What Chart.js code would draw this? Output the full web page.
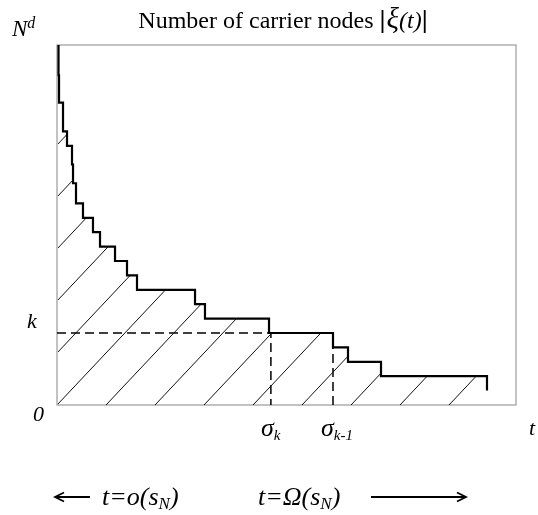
<!DOCTYPE html>
<html>
<head>
<meta charset="utf-8">
<script src="https://cdn.jsdelivr.net/npm/chart.js@4.4.1/dist/chart.umd.min.js"></script>
<style>
html, body { margin: 0; padding: 0; background: #fff; }
</style>
</head>
<body>
<canvas id="myChart" width="538" height="515"></canvas>
<script>
// times at which the number of carrier nodes drops, and the count right after
var dropTimes = [0.22, 0.33, 0.44, 1.31, 2.18, 3.27, 3.49, 4.14, 5.66, 7.84, 9.37, 12.64, 15.25, 17.43, 30.07, 32.24, 46.19, 60.13, 63.40, 70.59, 93.68];
var carrierCounts = [25, 22.9, 21, 19, 18, 16.7, 15.4, 14, 13, 12, 11, 10, 9, 8, 7, 6, 5, 4, 3, 2, 1];

var Nd = 25;        // top of the y axis
var k = 5;          // level marked with the dashed line
var sigmaK = 46.6;  // time the count reaches k
var sigmaK1 = 60.13; // time the count reaches k-1
var tMax = 100;

var serif = '"Liberation Serif", "DejaVu Serif", serif';

/**
  Pattern of thin "/" lines used for the area under the curve
*/
function makeHatch(w, h){
  var c = document.createElement('canvas');
  c.width = w;
  c.height = h;
  var g = c.getContext('2d');
  g.strokeStyle = '#111';
  g.lineWidth = 1;
  g.beginPath();
  for (var n = 0; n <= 2; n++){
    g.moveTo(n*w + w, -h);
    g.lineTo(n*w - 2*w, 2*h);
  }
  g.stroke();
  return g.createPattern(c, 'repeat');
}

/**
  Draw a row of text pieces in different fonts
*/
function drawRuns(ctx, x, y, runs, align){
  var total = 0;
  runs.forEach(function(r){
    ctx.font = r.font;
    r.w = ctx.measureText(r.text).width;
    total += r.w + (r.gap || 0);
  });
  var cx = (align === 'center') ? x - total/2 : x;
  runs.forEach(function(r){
    ctx.font = r.font;
    ctx.fillText(r.text, cx, y + (r.dy || 0));
    cx += r.w + (r.gap || 0);
  });
}

function arrow(ctx, x1, x2, y){
  var dir = x2 > x1 ? 1 : -1;
  ctx.beginPath();
  ctx.moveTo(x1, y);
  ctx.lineTo(x2, y);
  ctx.moveTo(x2 - dir*9, y - 4.5);
  ctx.lineTo(x2, y);
  ctx.lineTo(x2 - dir*9, y + 4.5);
  ctx.stroke();
}

var hatch = makeHatch(49, 52);

var points = dropTimes.map(function(t, i){ return {x: t, y: carrierCounts[i]}; });

var framePlugin = {
  id: 'frame',
  afterLayout: function(chart){
    var a = chart.chartArea;
    hatch.setTransform(new DOMMatrix().translate(a.left, a.bottom));
  },
  beforeDatasetsDraw: function(chart){
    var a = chart.chartArea;
    var c = chart.ctx;
    c.save();
    c.strokeStyle = '#9a9a9a';
    c.lineWidth = 1.2;
    c.strokeRect(a.left, a.top, a.right - a.left, a.bottom - a.top);
    c.restore();
  }
};

var labelPlugin = {
  id: 'labels',
  afterDraw: function(chart){
    var c = chart.ctx;
    var xs = chart.scales.x, ys = chart.scales.y;
    c.save();
    c.fillStyle = '#000';
    c.textBaseline = 'alphabetic';

    // title
    drawRuns(c, 283, 28, [
      {text: 'Number of carrier nodes ', font: '24px ' + serif},
      {text: '|', font: '23px "Liberation Sans", sans-serif', gap: 1},
      {text: '\u03BE', font: 'italic 29px ' + serif},
      {text: '(t)', font: 'italic 24px ' + serif},
      {text: '|', font: '23px "Liberation Sans", sans-serif'}
    ], 'center');

    // y axis marks
    var yTop = ys.getPixelForValue(Nd);
    drawRuns(c, 12, yTop - 9, [
      {text: 'N', font: 'italic 23px ' + serif},
      {text: 'd', font: 'italic 16px ' + serif, dy: -8}
    ]);
    drawRuns(c, 27, ys.getPixelForValue(k) - 5, [{text: 'k', font: 'italic 22px ' + serif}]);
    drawRuns(c, 33, ys.getPixelForValue(0) + 16, [{text: '0', font: 'italic 22px ' + serif}]);

    // x axis marks
    var yb = ys.getPixelForValue(0);
    drawRuns(c, xs.getPixelForValue(sigmaK) - 10, yb + 31, [
      {text: '\u03C3', font: 'italic 26px ' + serif},
      {text: 'k', font: 'italic 15px ' + serif, dy: 4}
    ]);
    drawRuns(c, xs.getPixelForValue(sigmaK1) - 12, yb + 31, [
      {text: '\u03C3', font: 'italic 26px ' + serif},
      {text: 'k-1', font: 'italic 15px ' + serif, dy: 4}
    ]);
    drawRuns(c, 529, yb + 30, [{text: 't', font: 'italic 22px ' + serif}]);

    // regimes below the chart
    c.strokeStyle = '#000';
    c.lineWidth = 1.8;
    arrow(c, 90, 55, 497);
    drawRuns(c, 102, 505, [
      {text: 't=o(s', font: 'italic 26px ' + serif},
      {text: 'N', font: 'italic 17px ' + serif, dy: 4},
      {text: ')', font: 'italic 26px ' + serif}
    ]);
    drawRuns(c, 258, 505, [
      {text: 't=\u03A9(s', font: 'italic 26px ' + serif},
      {text: 'N', font: 'italic 17px ' + serif, dy: 4},
      {text: ')', font: 'italic 26px ' + serif}
    ]);
    arrow(c, 371, 466, 497);
    c.restore();
  }
};

window.onload = function(){
  var ctx = document.getElementById('myChart').getContext('2d');
  new Chart(ctx, {
    type: 'line',
    data: {
      datasets: [
        {
          data: points,
          stepped: true,
          borderColor: '#000',
          borderWidth: 2.2,
          backgroundColor: hatch,
          fill: 'origin',
          pointRadius: 0
        },
        {
          data: [{x: 0, y: k}, {x: sigmaK, y: k}, {x: sigmaK, y: 0}],
          borderColor: '#000',
          borderWidth: 1.5,
          borderDash: [9, 5],
          fill: false,
          pointRadius: 0
        },
        {
          data: [{x: sigmaK1, y: 0}, {x: sigmaK1, y: k}],
          borderColor: '#000',
          borderWidth: 1.5,
          borderDash: [9, 5],
          fill: false,
          pointRadius: 0
        }
      ]
    },
    options: {
      responsive: false,
      animation: false,
      layout: {padding: {left: 57, right: 22, top: 45, bottom: 110}},
      scales: {
        x: {type: 'linear', min: 0, max: tMax, display: false},
        y: {type: 'linear', min: 0, max: Nd, display: false}
      },
      plugins: {legend: {display: false}, tooltip: {enabled: false}}
    },
    plugins: [framePlugin, labelPlugin]
  });
};
</script>
</body>
</html>
